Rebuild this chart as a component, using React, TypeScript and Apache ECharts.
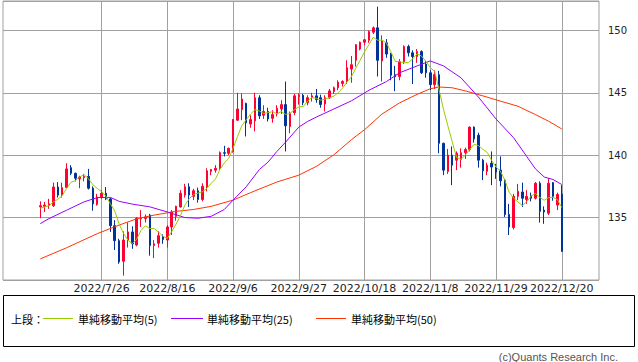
import React, { useEffect, useRef } from 'react';
import * as echarts from 'echarts';

// x-axis tick labels (also the vertical gridlines)
const tickDates = ['2022/7/26', '2022/8/16', '2022/9/6', '2022/9/27', '2022/10/18', '2022/11/8', '2022/11/29', '2022/12/20'];
const firstCandleDate = '2022/7/6';
const padBefore = 8;
const padAfter = 8;

const opens = [
  135.85, 135.9, 135.95, 135.95, 137.45, 136.8, 137.4, 139.0, 138.55, 138.1,
  138.2, 138.3, 137.35, 136.05, 136.65, 136.95, 136.5, 134.35, 133.15, 131.5,
  133.2, 133.85, 132.8, 134.9, 134.92, 135.2, 132.77, 132.95, 133.45, 133.2,
  134.25, 135.1, 135.85, 136.8, 137.47, 136.7, 137.15, 136.45, 137.47, 138.7,
  138.8, 138.95, 140.2, 140.15, 140.3, 142.8, 143.65, 144.15, 142.5, 142.75,
  144.6, 143.2, 143.5, 142.95, 143.3, 143.7, 144.05, 142.3, 143.4, 144.7,
  144.8, 144.2, 144.6, 144.75, 144.6, 144.1, 144.6, 145.1, 145.4, 145.75,
  145.9, 146.9, 147.6, 148.5, 149.05, 149.2, 149.85, 150.2, 147.55, 149.0,
  148.1, 146.45, 146.3, 147.5, 148.7, 148.2, 147.9, 148.3, 147.3, 146.6,
  145.65, 146.45, 140.95, 138.7, 140.0, 139.6, 139.65, 140.2, 140.45, 142.25,
  141.6, 139.6, 138.7, 139.35, 139.05, 138.8, 138.0, 135.25, 134.2, 136.7,
  137.05, 136.45, 136.75, 136.55, 137.75, 135.6, 135.35, 137.8, 136.0, 136.88,
];
const closes = [
  135.95, 136.0, 136.1, 137.45, 136.8, 137.4, 138.9, 138.55, 138.15, 138.25,
  138.3, 137.35, 136.1, 136.65, 136.95, 136.5, 134.35, 133.15, 131.45, 133.2,
  133.85, 132.9, 134.95, 134.95, 135.05, 132.77, 132.9, 133.55, 133.25, 134.25,
  135.45, 135.9, 136.95, 137.47, 136.8, 137.15, 136.45, 137.5, 138.75, 138.85,
  138.95, 140.2, 140.15, 140.55, 142.85, 143.7, 144.5, 142.6, 142.85, 144.6,
  143.15, 143.5, 142.9, 143.25, 143.75, 144.05, 142.35, 143.35, 144.75, 144.8,
  144.2, 144.6, 144.75, 144.45, 144.06, 144.6, 145.15, 145.4, 145.85, 145.9,
  147.0, 147.25, 148.85, 149.05, 149.25, 149.9, 150.2, 147.6, 149.15, 148.1,
  146.4, 146.3, 147.5, 148.7, 148.2, 147.9, 148.3, 146.6, 146.6, 145.65,
  146.45, 140.95, 138.8, 140.0, 139.2, 140.15, 140.2, 140.45, 142.25, 141.3,
  139.6, 138.75, 139.2, 139.05, 138.65, 137.95, 135.25, 134.25, 136.7, 137.1,
  136.55, 136.7, 136.55, 137.75, 135.5, 135.45, 137.75, 136.7, 136.85, 132.3,
];
const lows = [
  134.95, 135.45, 135.7, 135.85, 136.6, 136.6, 137.35, 138.4, 137.9, 137.35,
  137.9, 137.25, 135.55, 135.95, 136.5, 136.4, 133.85, 132.4, 131.3, 130.35,
  132.6, 132.5, 132.7, 134.25, 134.6, 131.95, 131.75, 132.6, 132.9, 132.6,
  133.6, 134.75, 135.8, 136.6, 135.85, 136.4, 136.2, 136.3, 137.1, 138.4,
  138.6, 138.8, 139.9, 140.0, 140.2, 142.75, 142.8, 141.5, 142.2, 141.9,
  142.9, 142.9, 142.7, 142.6, 143.1, 143.3, 140.3, 141.75, 143.2, 144.05,
  144.0, 144.0, 144.3, 144.2, 143.8, 143.5, 144.5, 144.9, 145.2, 145.5,
  145.7, 145.8, 147.1, 148.4, 148.8, 149.0, 149.7, 146.3, 145.9, 147.8,
  146.0, 145.13, 146.0, 147.3, 147.9, 145.7, 147.4, 146.5, 146.2, 145.2,
  145.3, 140.15, 138.4, 138.5, 137.6, 138.8, 139.0, 139.7, 140.3, 141.0,
  139.0, 138.0, 138.4, 137.6, 138.1, 137.5, 135.05, 133.6, 134.05, 136.4,
  135.85, 136.1, 136.3, 136.45, 134.6, 134.5, 135.2, 136.35, 135.6, 132.25,
];
const highs = [
  136.3, 136.25, 136.5, 137.8, 137.85, 137.8, 139.35, 139.2, 138.6, 138.35,
  138.5, 138.9, 137.5, 136.9, 137.2, 137.45, 136.6, 134.8, 133.3, 133.9,
  134.6, 134.3, 135.05, 135.6, 135.25, 135.3, 133.2, 133.9, 133.65, 134.4,
  135.6, 135.95, 137.2, 137.7, 137.75, 137.3, 137.4, 137.75, 138.95, 138.9,
  139.2, 140.3, 140.75, 140.6, 142.9, 145.0, 144.95, 144.2, 143.2, 145.0,
  144.8, 144.0, 143.8, 143.6, 144.0, 144.4, 145.9, 143.5, 144.9, 144.95,
  144.9, 144.8, 145.0, 145.3, 144.85, 144.8, 145.3, 145.5, 146.0, 146.0,
  147.6, 147.95, 148.9, 149.1, 149.3, 150.0, 150.3, 151.9, 149.6, 149.3,
  148.2, 147.15, 147.7, 148.8, 148.85, 148.4, 148.5, 148.4, 147.55, 146.8,
  146.8, 146.75, 141.0, 140.5, 140.7, 140.3, 140.55, 140.6, 142.3, 142.3,
  141.8, 139.7, 139.4, 140.3, 139.3, 139.9, 138.1, 136.1, 136.9, 137.7,
  137.8, 137.2, 137.0, 137.85, 137.9, 135.9, 138.15, 137.85, 137.0, 137.6,
];

// 単純移動平均(5), one value per candle
const ma5 = [
  135.75, 135.85, 135.95, 136.25, 136.46, 136.75, 137.33, 137.82, 137.96, 138.25,
  138.43, 138.12, 137.63, 137.33, 137.07, 136.71, 136.11, 135.52, 134.48, 133.73,
  133.2, 132.91, 133.27, 133.97, 134.34, 134.12, 134.12, 133.84, 133.5, 133.34,
  133.88, 134.48, 135.16, 136.0, 136.51, 136.85, 136.96, 137.07, 137.33, 137.74,
  138.1, 138.85, 139.38, 139.74, 140.54, 141.49, 142.35, 142.84, 143.3, 143.65,
  143.54, 143.34, 143.4, 143.48, 143.31, 143.49, 143.26, 143.35, 143.65, 143.86,
  143.89, 144.34, 144.62, 144.56, 144.41, 144.49, 144.6, 144.73, 145.01, 145.38,
  145.86, 146.28, 146.97, 147.61, 148.28, 148.86, 149.45, 149.2, 149.22, 148.99,
  148.29, 147.51, 147.49, 147.4, 147.42, 147.72, 148.12, 147.94, 147.52, 147.01,
  146.72, 145.25, 143.69, 142.37, 141.08, 139.82, 139.67, 140.0, 140.45, 140.87,
  140.76, 140.47, 140.22, 139.58, 139.05, 138.72, 138.02, 137.03, 136.56, 136.25,
  135.97, 136.26, 136.72, 136.93, 136.61, 136.39, 136.6, 136.63, 136.45, 135.81,
];

// 単純移動平均(25), read at sampled candles (candle index, value)
const ma25Idx = [0, 2, 6, 10, 13, 16, 18, 21, 25, 29, 33, 36, 39, 42, 44, 47, 50, 52, 54, 56, 59, 61, 63, 67, 71, 75, 79, 82, 86, 89, 92, 96, 100, 104, 108, 111, 113, 115, 117, 119];
const ma25Val = [134.52, 134.92, 135.59, 136.26, 136.6, 136.62, 136.3, 136.08, 135.86, 135.45, 135.0, 134.95, 135.1, 135.65, 136.4, 137.47, 138.85, 139.45, 140.3, 141.05, 142.25, 142.7, 143.05, 143.7, 144.35, 145.2, 145.9, 146.6, 147.15, 147.55, 147.15, 146.2, 144.65, 142.9, 141.4, 139.9, 138.9, 138.25, 138.05, 137.65];

// 単純移動平均(50), read at sampled candles (candle index, value)
const ma50Idx = [0, 6, 13, 18, 22, 26, 31, 35, 39, 44, 48, 54, 59, 63, 67, 71, 74, 78, 82, 86, 89, 91, 94, 97, 101, 105, 109, 113, 116, 119];
const ma50Val = [131.69, 132.58, 133.71, 134.4, 134.9, 135.2, 135.5, 135.65, 135.9, 136.4, 137.0, 137.85, 138.4, 139.1, 140.03, 141.24, 142.04, 143.3, 144.19, 144.87, 145.32, 145.46, 145.4, 145.15, 144.75, 144.33, 143.92, 143.25, 142.72, 142.1];

const UP = '#ff0033';
const DOWN = '#003399';
const GRID = '#a0a0a0';
const C5 = '#99cc00';
const C25 = '#9900ff';
const C50 = '#ff3300';

function fmt(d: Date) {
  return `${d.getFullYear()}/${d.getMonth() + 1}/${d.getDate()}`;
}

// weekday calendar around the candles (padding slots are empty)
function buildCategories(): string[] {
  const [y, m, dd] = firstCandleDate.split('/').map(Number);
  const first = new Date(y, m - 1, dd);
  const before: string[] = [];
  const d = new Date(first);
  while (before.length < padBefore) {
    d.setDate(d.getDate() - 1);
    if (d.getDay() !== 0 && d.getDay() !== 6) before.unshift(fmt(d));
  }
  const rest: string[] = [];
  const e = new Date(first);
  while (rest.length < opens.length + padAfter) {
    if (e.getDay() !== 0 && e.getDay() !== 6) rest.push(fmt(e));
    e.setDate(e.getDate() + 1);
  }
  return [...before, ...rest];
}

function buildOption() {
  const categories = buildCategories();
  const candleCats = categories.slice(padBefore, padBefore + opens.length);
  const candleData: any[] = [];
  for (let i = 0; i < padBefore; i++) candleData.push(['-', '-', '-', '-']);
  opens.forEach((o, i) => candleData.push([o, closes[i], lows[i], highs[i]]));

  const ma5Data = ma5.map((v, i) => [candleCats[i], v]);
  const ma25Data = ma25Idx.map((k, i) => [candleCats[k], ma25Val[i]]);
  const ma50Data = ma50Idx.map((k, i) => [candleCats[k], ma50Val[i]]);

  const lineSeries = (name: string, data: any[], color: string) => ({
    name,
    type: 'line',
    data,
    symbol: 'none',
    silent: true,
    z: 3,
    lineStyle: { color, width: 1 },
    itemStyle: { color },
  });

  const legendFont = '11px "Noto Sans CJK JP"';
  const ly = 319;

  return {
    animation: false,
    backgroundColor: '#ffffff',
    grid: { left: 3, right: 39, top: 1, bottom: 82, show: true, borderColor: GRID, borderWidth: 1 },
    xAxis: {
      type: 'category',
      data: categories,
      boundaryGap: true,
      axisLine: { show: false },
      axisTick: { show: false },
      splitLine: { show: false },
      axisLabel: {
        interval: (_i: number, v: string) => tickDates.includes(v),
        margin: 3,
        color: '#222',
        fontFamily: 'DejaVu Sans',
        fontSize: 11,
      },
    },
    yAxis: {
      type: 'value',
      position: 'right',
      min: 130,
      max: 152.35,
      interval: 5,
      axisLine: { show: false },
      axisTick: { show: false },
      splitLine: { show: true, lineStyle: { color: GRID, width: 1 } },
      axisLabel: {
        margin: 9,
        color: '#222',
        fontFamily: 'DejaVu Sans',
        fontSize: 10,
        formatter: (v: number) => (v > 130 && Math.abs(v % 5) < 1e-6 ? String(v) : ''),
      },
    },
    series: [
      {
        type: 'candlestick',
        data: candleData,
        barWidth: 2,
        silent: true,
        z: 2,
        itemStyle: { color: UP, color0: DOWN, borderColor: UP, borderColor0: DOWN, borderWidth: 1 },
        markLine: {
          silent: true,
          z: 1,
          symbol: ['none', 'none'],
          label: { show: false },
          lineStyle: { color: GRID, width: 1, type: 'solid' },
          emphasis: { disabled: true },
          data: tickDates.map((d) => ({ xAxis: d })),
        },
      },
      lineSeries('単純移動平均(50)', ma50Data, C50),
      lineSeries('単純移動平均(25)', ma25Data, C25),
      lineSeries('単純移動平均(5)', ma5Data, C5),
    ],
    graphic: [
      { type: 'rect', shape: { x: 3.5, y: 295.5, width: 631, height: 51 }, style: { fill: 'none', stroke: '#000', lineWidth: 1 } },
      { type: 'text', x: 11, y: ly, style: { text: '上段：', font: legendFont, fill: '#000', verticalAlign: 'middle' } },
      { type: 'line', shape: { x1: 43, y1: ly - 0.5, x2: 73, y2: ly - 0.5 }, style: { stroke: C5, lineWidth: 1 } },
      { type: 'text', x: 78, y: ly, style: { text: '単純移動平均(5)', font: legendFont, fill: '#000', verticalAlign: 'middle' } },
      { type: 'line', shape: { x1: 171, y1: ly - 0.5, x2: 203, y2: ly - 0.5 }, style: { stroke: C25, lineWidth: 1 } },
      { type: 'text', x: 207, y: ly, style: { text: '単純移動平均(25)', font: legendFont, fill: '#000', verticalAlign: 'middle' } },
      { type: 'line', shape: { x1: 316, y1: ly - 0.5, x2: 346, y2: ly - 0.5 }, style: { stroke: C50, lineWidth: 1 } },
      { type: 'text', x: 351, y: ly, style: { text: '単純移動平均(50)', font: legendFont, fill: '#000', verticalAlign: 'middle' } },
      { type: 'text', x: 618, y: 357, style: { text: '(c)Quants Research Inc.', font: '11px "Liberation Sans"', fill: '#555', align: 'right', verticalAlign: 'middle' } },
    ],
  };
}

export default function App() {
  const ref = useRef<HTMLDivElement>(null);
  useEffect(() => {
    const chart = echarts.init(ref.current as HTMLDivElement, null, { renderer: 'svg' });
    chart.setOption(buildOption() as any);
    return () => chart.dispose();
  }, []);
  return (
    <div
      ref={ref}
      style={{ position: 'fixed', left: 0, top: 0, width: 638, height: 362, background: '#fff' }}
    />
  );
}
